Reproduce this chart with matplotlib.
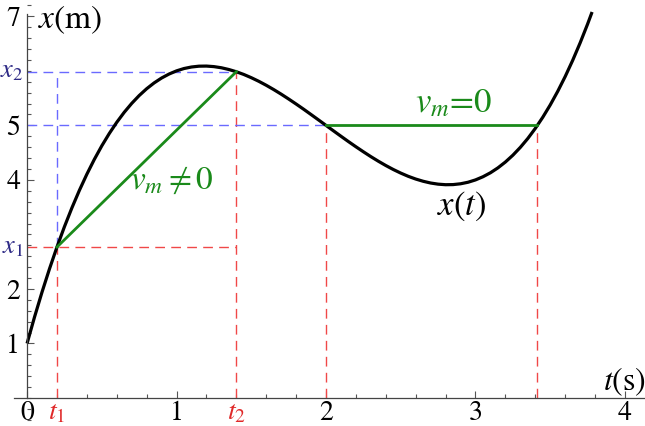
import matplotlib
matplotlib.use('Agg')
import matplotlib.pyplot as plt
from matplotlib.ticker import MultipleLocator

plt.rcParams['font.family'] = 'STIXGeneral'
plt.rcParams['mathtext.fontset'] = 'stix'

# position curve x(t)
t = [0.0, 0.05, 0.1, 0.15, 0.2, 0.25, 0.3, 0.35, 0.4, 0.45, 0.5, 0.55, 0.6, 0.65,
     0.7, 0.75, 0.8, 0.85, 0.9, 0.95, 1.0, 1.05, 1.1, 1.15, 1.2, 1.25, 1.3, 1.35,
     1.4, 1.45, 1.5, 1.55, 1.6, 1.65, 1.7, 1.75, 1.8, 1.85, 1.9, 1.95, 2.0, 2.05,
     2.1, 2.15, 2.2, 2.25, 2.3, 2.35, 2.4, 2.45, 2.5, 2.55, 2.6, 2.65, 2.7, 2.75,
     2.8, 2.85, 2.9, 2.95, 3.0, 3.05, 3.1, 3.15, 3.2, 3.25, 3.3, 3.35, 3.4, 3.45,
     3.5, 3.55, 3.6, 3.65, 3.7, 3.75, 3.78]
x = [1.0, 1.485, 1.941, 2.368, 2.768, 3.141, 3.487, 3.808, 4.104, 4.376, 4.625,
     4.851, 5.056, 5.24, 5.403, 5.547, 5.672, 5.779, 5.869, 5.942, 6.0, 6.043,
     6.071, 6.086, 6.088, 6.078, 6.057, 6.025, 5.984, 5.934, 5.875, 5.809, 5.736,
     5.657, 5.573, 5.484, 5.392, 5.297, 5.199, 5.1, 5.0, 4.9, 4.801, 4.703, 4.608,
     4.516, 4.427, 4.343, 4.264, 4.191, 4.125, 4.066, 4.016, 3.975, 3.943, 3.922,
     3.912, 3.914, 3.929, 3.957, 4.0, 4.058, 4.131, 4.221, 4.328, 4.453, 4.597,
     4.76, 4.944, 5.149, 5.375, 5.624, 5.896, 6.192, 6.513, 6.859, 7.08]

t1, x1 = 0.2, 2.768
t2, x2 = 1.4, 5.984
ta, tb, xc = 2.0, 3.414, 5.0

red = '#f04848'
blue = '#6a6aff'
green = '#1a8a1a'

fig = plt.figure(figsize=(6.45, 4.26), dpi=100)
ax = fig.add_axes([0, 0, 1, 1])
ax.set_xlim(-0.181, 4.134)
ax.set_ylim(-0.514, 7.30)

dash = dict(lw=1.0, dashes=(7, 4.5))
# red guide lines
ax.plot([t1, t1], [0, x1], color=red, **dash)
ax.plot([t2, t2], [0, x2], color=red, **dash)
ax.plot([ta, ta], [0, xc], color=red, **dash)
ax.plot([tb, tb], [0, xc], color=red, **dash)
ax.plot([0, t2], [x1, x1], color=red, **dash)
# blue guide lines
ax.plot([0, t2], [x2, x2], color=blue, **dash)
ax.plot([0, ta], [xc, xc], color=blue, **dash)
ax.plot([t1, t1], [x1, x2], color=blue, **dash)

ax.plot(t, x, color='black', lw=2.3, solid_capstyle='butt')
ax.plot([t1, t2], [x1, x2], color=green, lw=2.0)
ax.plot([ta, tb], [xc, xc], color=green, lw=2.0)

for s in ['top', 'right']:
    ax.spines[s].set_visible(False)
ax.spines['left'].set_position(('data', 0))
ax.spines['bottom'].set_position(('data', 0))
ax.spines['left'].set_bounds(0, 7.05)
ax.spines['bottom'].set_bounds(-0.087, 4.134)
for s in ['left', 'bottom']:
    ax.spines[s].set_color('#444444')
    ax.spines[s].set_linewidth(0.9)

ax.set_xticks([0, 1, 2, 3, 4])
ax.set_yticks([1, 2, 4, 5, 7])
ax.xaxis.set_minor_locator(MultipleLocator(0.2))
ax.yaxis.set_minor_locator(MultipleLocator(0.2))
ax.tick_params(which='major', direction='in', length=5, width=0.8, color='#555555',
               labelsize=20, pad=2)
ax.tick_params(which='minor', direction='in', length=3, width=0.8, color='#555555')
ax.tick_params(axis='y', pad=5)

ax.text(-0.022, x1, '$x_1$', color='#2e2a86', fontsize=19, ha='right', va='center')
ax.text(-0.022, x2, '$x_2$', color='#2e2a86', fontsize=19, ha='right', va='center')
ax.text(t1, -0.04, '$t_1$', color='#e02828', fontsize=20, ha='center', va='top')
ax.text(t2, -0.04, '$t_2$', color='#e02828', fontsize=20, ha='center', va='top')

ax.text(0.07, 6.78, '$x$(m)', fontsize=24, ha='left', va='baseline')
ax.text(3.85, 0.15, '$t$(s)', fontsize=23, ha='left', va='baseline')
ax.text(2.91, 3.52, '$x(t)$', fontsize=25, ha='center', va='center')
ax.text(0.97, 4.0, r'$v_m \neq 0$', color=green, fontsize=24, ha='center', va='center')
ax.text(2.85, 5.38, '$v_m$=0', color=green, fontsize=25, ha='center', va='center')

fig.savefig('out.png', dpi=100)
